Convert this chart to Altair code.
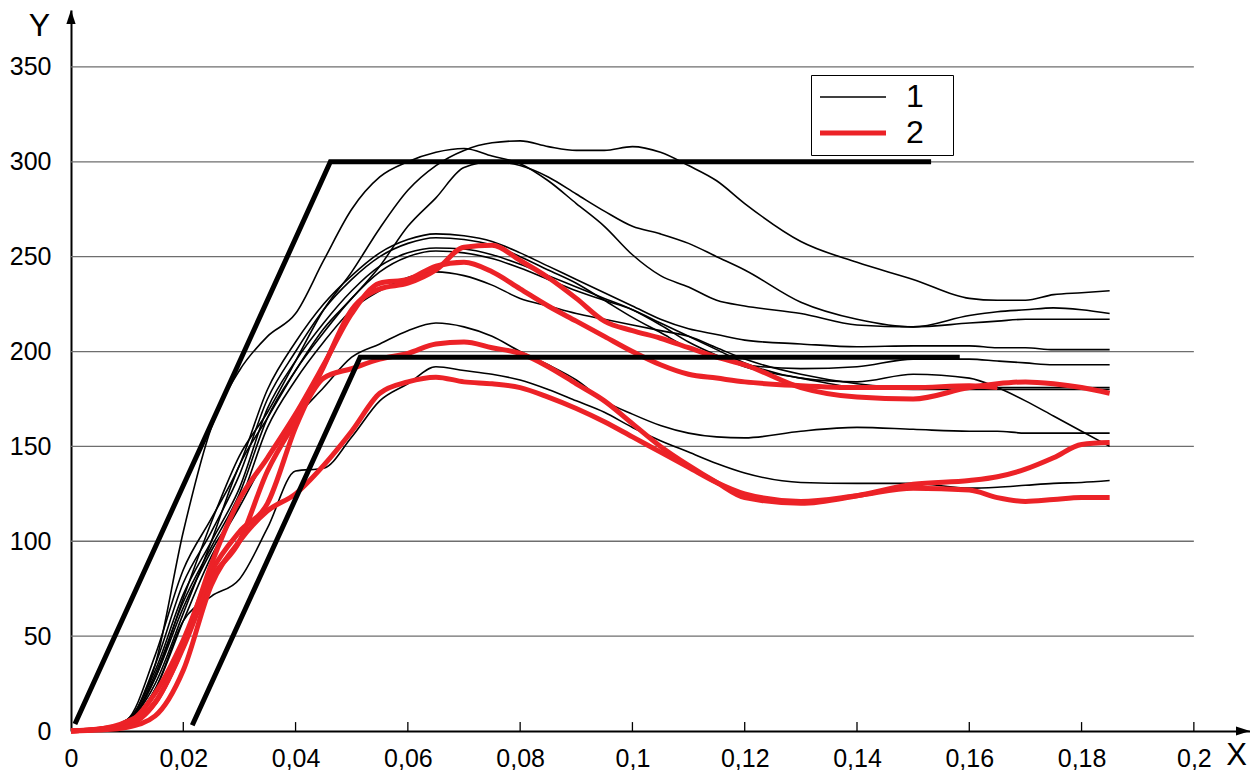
import altair as alt
import pandas as pd

# ---------------- data ----------------
XS = [0, .005, .01, .015, .02, .025, .03, .035, .04, .045, .05, .055, .06, .065, .07,
      .075, .08, .085, .09, .095, .1, .105, .11, .115, .12, .13, .14, .15, .16, .165,
      .17, .175, .18, .185]

# series "1" (thin black)
B1 = [0, 1, 5, 28, 70, 110, 145, 168, 195, 222, 242, 265, 285, 298, 306, 310, 311, 308, 306, 306,
      308, 305, 298, 290, 278, 258, 247, 238, 228, 227, 227, 230, 231, 232]
B2 = [0, 1, 6, 35, 105, 160, 190, 208, 220, 248, 275, 292, 300, 305, 307, 303, 299, 290, 278, 266,
      251, 240, 234, 227, 224, 220, 214, 213, 219, 221, 222, 223, 222, 220]
B3 = [0, 1, 5, 25, 62, 100, 140, 165, 190, 212, 228, 245, 266, 281, 297, 300, 298, 292, 283, 274,
      266, 262, 257, 250, 243, 226, 217, 213, 215, 216, 217, 217, 217, 217]
B4 = [0, 1, 6, 40, 85, 112, 140, 180, 205, 225, 240, 252, 259, 262, 261, 258, 252, 245, 238, 231,
      224, 217, 212, 209, 206, 204, 202.5, 203, 203, 202, 202, 201, 201, 201]
B5 = [0, 1, 5, 35, 78, 105, 135, 175, 200, 222, 238, 250, 257, 260, 259, 256, 250, 243, 236, 227,
      218, 210, 202, 197, 193, 191, 192, 196, 196, 195, 194, 193, 193, 193]
B6 = [0, 1, 4, 28, 65, 95, 120, 160, 185, 205, 222, 232, 239, 242, 240, 235, 228, 224, 220, 217,
      214, 211, 208, 202, 196, 188, 183, 181, 181, 181, 181, 181, 181, 181]
B7 = [0, 1, 5, 32, 72, 100, 128, 170, 195, 215, 232, 245, 252, 254.6, 254, 251, 246, 240, 234, 228,
      222, 214, 205, 198, 192, 186, 181, 180, 180, 180, 180, 180, 180, 180]
B8 = [0, 1, 4, 30, 68, 97, 125, 165, 190, 210, 228, 242, 250, 253, 252, 249, 244, 238, 232, 227,
      222, 215, 208, 201, 194, 186, 184, 188, 186, 181, 174, 166, 158, 150]
B9 = [0, 1, 4, 22, 58, 92, 118, 145, 165, 181, 197, 204, 211, 215, 213, 208, 200, 193, 185, 174,
      167, 161, 157, 155, 154.5, 158, 160, 159, 158, 158, 157, 157, 157, 157]
B10 = [0, 1, 5, 22, 58, 71, 80, 107, 137, 138.5, 155, 174, 183, 192, 190, 188, 185, 180, 174, 168,
       160, 153, 147, 141, 136, 131, 130.5, 130.5, 128, 128.5, 129.5, 130.5, 131, 132]

# series "2" (thick red)
R1 = [0, 1, 4, 20, 48, 84, 105, 120, 160, 192, 222, 233, 236, 243, 255, 256, 248, 239, 228, 216,
      211, 207, 202, 197, 193, 181, 176, 175, 181, 183, 184, 183, 181, 178]
R2 = [0, 1, 3, 15, 45, 88, 122, 144, 167, 193, 220, 236, 238, 245, 247, 242, 233, 224, 216, 208,
      200, 193, 188, 186, 184, 182, 181, 181, 182, 181, None, None, None, None]
R3 = [0, 1, 5, 15, 44, 80, 100, 137, 163, 186, 191, 196, 199, 204, 205, 202, 199, 192, 183, 174,
      162, 150, 140, 131, 123, 120, 124, 130, 132, 134, 138, 144, 151, 152]
R4 = [0, 0.5, 2, 8, 32, 77, 100, 116, 125, 140, 158, 178, 184, 186.5, 184, 183, 181, 176, 170, 163,
      155, 147, 139, 131, 125, 121, 124, 128, 127, 123, 121, 122, 123, 123]

BLACK_SERIES = {"b1": B1, "b2": B2, "b3": B3, "b4": B4, "b5": B5,
                "b6": B6, "b7": B7, "b8": B8, "b9": B9, "b10": B10}
RED_SERIES = {"r1": R1, "r2": R2, "r3": R3, "r4": R4}

# thick black envelope (trapezoid limits)
ENV_UPPER_X = [0.0007, 0.0462, 0.1532]
ENV_UPPER_Y = [3.7, 300, 300]
ENV_LOWER_X = [0.0216, 0.0515, 0.1583]
ENV_LOWER_Y = [3, 197, 197]

Y_TICKS = [0, 50, 100, 150, 200, 250, 300, 350]
GRID_Y = [50, 100, 150, 200, 250, 300, 350]
X_TICKS = [0, 0.02, 0.04, 0.06, 0.08, 0.1, 0.12, 0.14, 0.16, 0.18, 0.2]
X_TICK_MARKS = [0.02, 0.04, 0.06, 0.08, 0.1, 0.12, 0.14, 0.16, 0.18, 0.2]
GRID_END = 0.2
XMAX, YMAX = 0.21, 380
TICK_LEN = 4.7
RED = "#ec2227"
FONT = "Liberation Sans"

# ---------------- tables ----------------
rows = []
for name, ys in BLACK_SERIES.items():
    rows += [{"x": x, "y": y, "id": name, "grp": "1"} for x, y in zip(XS, ys) if y is not None]
for name, ys in RED_SERIES.items():
    rows += [{"x": x, "y": y, "id": name, "grp": "2"} for x, y in zip(XS, ys) if y is not None]
curves = pd.DataFrame(rows)

env = pd.DataFrame(
    [{"x": x, "y": y, "id": "up", "k": i} for i, (x, y) in enumerate(zip(ENV_UPPER_X, ENV_UPPER_Y))]
    + [{"x": x, "y": y, "id": "low", "k": i} for i, (x, y) in enumerate(zip(ENV_LOWER_X, ENV_LOWER_Y))]
)
grid = pd.DataFrame({"y": GRID_Y, "x": [0] * len(GRID_Y), "x2": [GRID_END] * len(GRID_Y)})
ticks = pd.DataFrame({"x": X_TICK_MARKS, "y": [0] * len(X_TICK_MARKS),
                      "y2": [TICK_LEN] * len(X_TICK_MARKS)})
arrow_up = pd.DataFrame({"x": [0], "y": [YMAX]})
arrow_right = pd.DataFrame({"x": [XMAX], "y": [0]})

# ---------------- scales / axes ----------------
xs = alt.Scale(domain=[0, XMAX], nice=False, zero=False)
ys_ = alt.Scale(domain=[0, YMAX], nice=False, zero=False)

x_axis = alt.Axis(values=X_TICKS, grid=False, ticks=False, domain=True, domainColor="black",
                  domainWidth=2, labelFont=FONT, labelFontSize=25, labelColor="black",
                  labelPadding=15, labelFlush=False, labelOverlap=False,
                  labelExpr="replace(format(datum.value, '~g'), '.', ',')",
                  title="X", titleFont=FONT, titleFontSize=31, titleFontWeight="normal",
                  titleColor="black", titleX=1165, titleY=24, titleAlign="center",
                  titleBaseline="middle")
y_axis = alt.Axis(values=Y_TICKS, grid=False, ticks=False, domain=True, domainColor="black",
                  domainWidth=2, labelFont=FONT, labelFontSize=25, labelColor="black",
                  labelPadding=20, labelFlush=False, labelOverlap=False,
                  title="Y", titleFont=FONT, titleFontSize=32, titleFontWeight="normal",
                  titleColor="black", titleAngle=0, titleX=-32, titleY=15,
                  titleAlign="center", titleBaseline="middle")


def X(field="x"):
    return alt.X(f"{field}:Q", scale=xs, axis=x_axis)


def Y(field="y"):
    return alt.Y(f"{field}:Q", scale=ys_, axis=y_axis)


legend = alt.Legend(
    title=None, orient="none", legendX=740, legendY=65,
    symbolType="M-6,0H6", symbolSize=121, symbolFillColor="transparent", symbolOffset=20,
    labelFont=FONT, labelFontSize=32, labelColor="black", labelOffset=37,
    rowPadding=4, padding=6, strokeColor="black",
    labelExpr="datum.label + '\u2800'",
)
color = alt.Color("grp:O", scale=alt.Scale(domain=["1", "2"], range=["black", RED]),
                  legend=legend)
width_enc = alt.StrokeWidth("grp:O", scale=alt.Scale(domain=["1", "2"], range=[1.6, 5]),
                            legend=legend)

grid_layer = alt.Chart(grid).mark_rule(color="#6e6e6e", strokeWidth=1.3).encode(
    x=X(), x2="x2:Q", y=Y())
tick_layer = alt.Chart(ticks).mark_rule(color="black", strokeWidth=1.3).encode(
    x=X(), y=Y(), y2="y2:Q")

black_layer = alt.Chart(curves).transform_filter(alt.datum.grp == "1").mark_line(
    interpolate="monotone").encode(
    x=X(), y=Y(), color=color, strokeWidth=width_enc, detail="id:N", order="x:Q")
red_layer = alt.Chart(curves).transform_filter(alt.datum.grp == "2").mark_line(
    interpolate="monotone").encode(
    x=X(), y=Y(), color=color, strokeWidth=width_enc, detail="id:N", order="x:Q")

env_layer = alt.Chart(env).mark_line(color="black", strokeWidth=5, strokeJoin="miter").encode(
    x=X(), y=Y(), detail="id:N", order="k:Q")

arrow_up_layer = alt.Chart(arrow_up).mark_point(
    shape="M0,0L0.33,1L-0.33,1Z", size=784, filled=True, color="black", opacity=1).encode(
    x=X(), y=Y())
arrow_right_layer = alt.Chart(arrow_right).mark_point(
    shape="M0,0L-1,-0.33L-1,0.33Z", size=784, filled=True, color="black", opacity=1).encode(
    x=X(), y=Y())

chart = alt.layer(
    grid_layer, tick_layer, black_layer, red_layer, env_layer, arrow_up_layer, arrow_right_layer
).properties(
    width=1179, height=721,
    autosize=alt.AutoSizeParams(type="none"),
    padding={"left": 63, "top": 2, "right": 0, "bottom": 39},
    background="white",
).configure_view(strokeWidth=0)

chart.save("out.html", embed_options={"renderer": "svg", "actions": False})
